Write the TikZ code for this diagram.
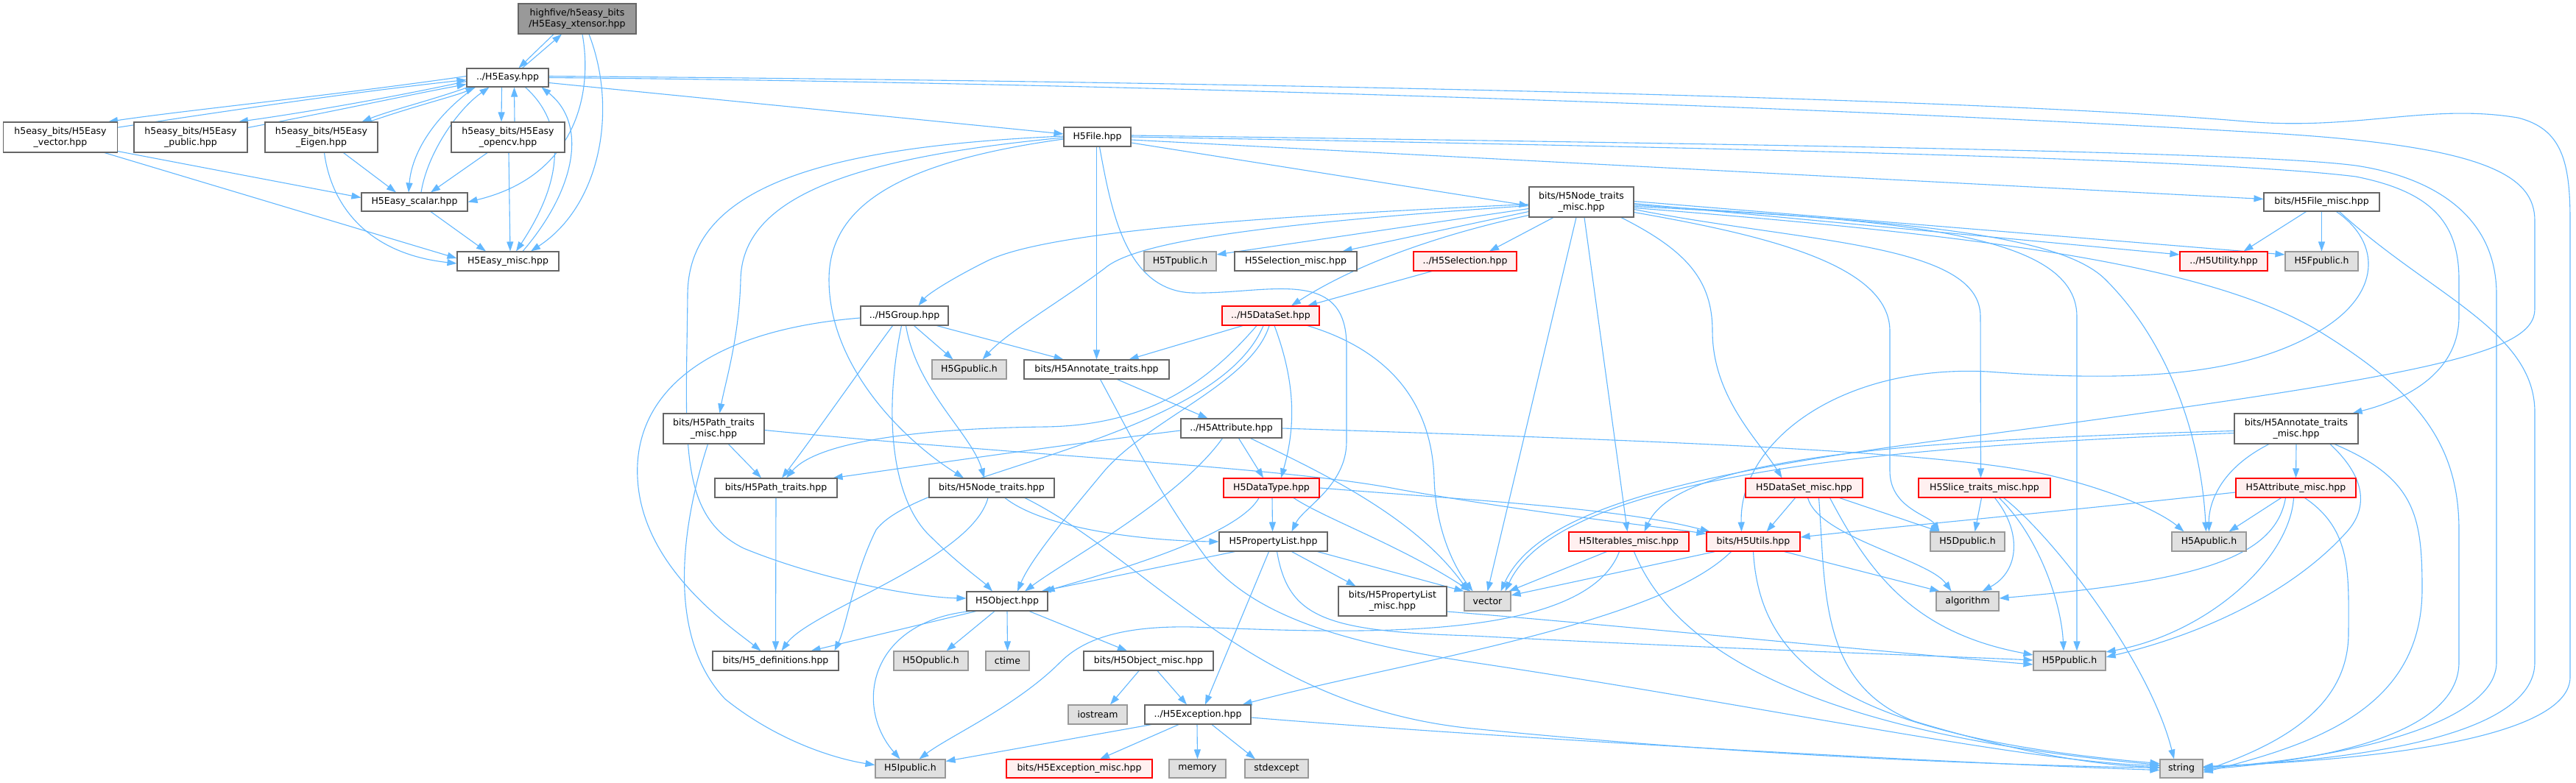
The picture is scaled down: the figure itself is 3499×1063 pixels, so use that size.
\documentclass[tikz,border=0pt]{standalone}
\usepackage{fontspec}
\setmainfont{DejaVu Sans}
\usetikzlibrary{arrows.meta}
\pgfdeclarelayer{bg}
\pgfsetlayers{bg,main}
\definecolor{edgec}{HTML}{63B8FF}
\definecolor{bord}{HTML}{666666}
\definecolor{rootf}{HTML}{999999}
\definecolor{extf}{HTML}{E0E0E0}
\definecolor{extb}{HTML}{999999}
\definecolor{redf}{HTML}{FFF0F0}
\definecolor{redb}{HTML}{FF0000}
\begin{document}
\begin{tikzpicture}[x=1pt,y=-1pt,
  nbase/.style={rectangle, inner sep=0pt, align=center, line width=1.1pt, font=\fontsize{12.5}{15}\selectfont},
  nb/.style={nbase, draw=bord, fill=white},
  nr/.style={nbase, draw=bord, fill=rootf},
  ng/.style={nbase, draw=extb, fill=extf},
  nred/.style={nbase, draw=redb, fill=redf},
  edg/.style={draw=edgec, line width=1.1pt, -{Triangle[length=13pt,width=9pt]}}
]
\useasboundingbox (0,0) rectangle (3499,1063);
\begin{pgfonlayer}{bg}
\fill[white] (0,0) rectangle (3499,1063);
\end{pgfonlayer}

% ---------- nodes ----------
\node[nr, minimum width=160pt, minimum height=41pt] (xt) at (784,25.5) {highfive/h5easy\_bits\\/H5Easy\_xtensor.hpp};
\node[nb, minimum width=111pt, minimum height=25pt] (easy) at (689.5,105.5) {../H5Easy.hpp};
\node[nb, minimum width=155pt, minimum height=41pt] (vec) at (82,186.5) {h5easy\_bits/H5Easy\\\_vector.hpp};
\node[nb, minimum width=154pt, minimum height=41pt] (pub) at (259,186.5) {h5easy\_bits/H5Easy\\\_public.hpp};
\node[nb, minimum width=153pt, minimum height=41pt] (eig) at (436.5,186.5) {h5easy\_bits/H5Easy\\\_Eigen.hpp};
\node[nb, minimum width=154pt, minimum height=41pt] (ocv) at (690,186.5) {h5easy\_bits/H5Easy\\\_opencv.hpp};
\node[nb, minimum width=144pt, minimum height=25pt] (scal) at (563,274.5) {H5Easy\_scalar.hpp};
\node[nb, minimum width=138pt, minimum height=26pt] (emisc) at (690,355) {H5Easy\_misc.hpp};
\node[nb, minimum width=91pt, minimum height=26pt] (file) at (1490.5,186) {H5File.hpp};
\node[nb, minimum width=142pt, minimum height=41pt] (ntm) at (2148,274.5) {bits/H5Node\_traits\\\_misc.hpp};
\node[nb, minimum width=157pt, minimum height=25pt] (fmisc) at (3153.5,274.5) {bits/H5File\_misc.hpp};
\node[ng, minimum width=98pt, minimum height=26pt] (tpub) at (1603,355) {H5Tpublic.h};
\node[nb, minimum width=166pt, minimum height=26pt] (selm) at (1760,355) {H5Selection\_misc.hpp};
\node[nred, minimum width=140pt, minimum height=26pt] (sel) at (1990,355) {../H5Selection.hpp};
\node[nred, minimum width=119pt, minimum height=26pt] (util) at (3020.5,355) {../H5Utility.hpp};
\node[ng, minimum width=99pt, minimum height=26pt] (fpub) at (3153.5,355) {H5Fpublic.h};
\node[nb, minimum width=119pt, minimum height=26pt] (grp) at (1228.5,429) {../H5Group.hpp};
\node[nred, minimum width=132pt, minimum height=26pt] (ds) at (1726,429) {../H5DataSet.hpp};
\node[ng, minimum width=101pt, minimum height=26pt] (gpub) at (1316.5,502) {H5Gpublic.h};
\node[nb, minimum width=197pt, minimum height=26pt] (annt) at (1489.5,502) {bits/H5Annotate\_traits.hpp};
\node[nb, minimum width=137pt, minimum height=41pt] (ptm) at (969.5,582.5) {bits/H5Path\_traits\\\_misc.hpp};
\node[nb, minimum width=137pt, minimum height=26pt] (attr) at (1672.5,582) {../H5Attribute.hpp};
\node[nb, minimum width=168pt, minimum height=41pt] (antm) at (3119,582.5) {bits/H5Annotate\_traits\\\_misc.hpp};
\node[nb, minimum width=166pt, minimum height=26pt] (pt) at (1054,663) {bits/H5Path\_traits.hpp};
\node[nb, minimum width=170pt, minimum height=26pt] (nt) at (1347,663) {bits/H5Node\_traits.hpp};
\node[nred, minimum width=130pt, minimum height=26pt] (dt) at (1727,663) {H5DataType.hpp};
\node[nred, minimum width=159pt, minimum height=26pt] (dsm) at (2450.5,663) {H5DataSet\_misc.hpp};
\node[nred, minimum width=179pt, minimum height=26pt] (slm) at (2695.5,663) {H5Slice\_traits\_misc.hpp};
\node[nred, minimum width=163pt, minimum height=26pt] (atm) at (3118.5,663) {H5Attribute\_misc.hpp};
\node[nb, minimum width=147pt, minimum height=26pt] (pl) at (1729.5,736) {H5PropertyList.hpp};
\node[nred, minimum width=163pt, minimum height=26pt] (itm) at (2212.5,736) {H5Iterables\_misc.hpp};
\node[nred, minimum width=127pt, minimum height=26pt] (utils) at (2381.5,736) {bits/H5Utils.hpp};
\node[ng, minimum width=101pt, minimum height=26pt] (dpub) at (2672.5,736) {H5Dpublic.h};
\node[ng, minimum width=101pt, minimum height=26pt] (apub) at (3000.5,736) {H5Apublic.h};
\node[nb, minimum width=110pt, minimum height=26pt] (obj) at (1368,817) {H5Object.hpp};
\node[nb, minimum width=147pt, minimum height=40pt] (plm) at (1891.5,817) {bits/H5PropertyList\\\_misc.hpp};
\node[ng, minimum width=63pt, minimum height=26pt] (vecs) at (2020.5,817) {vector};
\node[ng, minimum width=85pt, minimum height=26pt] (algo) at (2672.5,817) {algorithm};
\node[nb, minimum width=171pt, minimum height=26pt] (defs) at (1053.5,898) {bits/H5\_definitions.hpp};
\node[ng, minimum width=101pt, minimum height=26pt] (opub) at (1264.5,898) {H5Opublic.h};
\node[ng, minimum width=59pt, minimum height=26pt] (ctime) at (1368.5,898) {ctime};
\node[nb, minimum width=176pt, minimum height=26pt] (objm) at (1560,898) {bits/H5Object\_misc.hpp};
\node[ng, minimum width=98pt, minimum height=26pt] (ppub) at (2811,898) {H5Ppublic.h};
\node[ng, minimum width=80pt, minimum height=26pt] (iostr) at (1491,971) {iostream};
\node[nb, minimum width=144pt, minimum height=26pt] (exc) at (1627,971) {../H5Exception.hpp};
\node[ng, minimum width=95pt, minimum height=25pt] (ipub) at (1236.5,1044.5) {H5Ipublic.h};
\node[nred, minimum width=198pt, minimum height=25pt] (excm) at (1466,1044.5) {bits/H5Exception\_misc.hpp};
\node[ng, minimum width=77pt, minimum height=25pt] (memory) at (1626.5,1044.5) {memory};
\node[ng, minimum width=86pt, minimum height=25pt] (stdexc) at (1734,1044.5) {stdexcept};
\node[ng, minimum width=58pt, minimum height=25pt] (string) at (2963,1044.5) {string};

\begin{pgfonlayer}{bg}
% ---------- H5Easy cluster ----------
\draw[edg] ([xshift=-32]xt.south) -- ([xshift=15]easy.north);
\draw[edg] ([xshift=20]easy.north) -- ([xshift=-21]xt.south);
\draw[edg] ([xshift=7]xt.south) .. controls (806,130) and (780,240) .. (scal.east);
\draw[edg] ([xshift=16]xt.south) .. controls (840,150) and (815,280) .. ([xshift=31]emisc.north);
\draw[edg] ([yshift=2]easy.west) .. controls (450,130) and (250,150) .. ([xshift=65]vec.north);
\draw[edg] ([xshift=-2,yshift=-8]vec.north east) .. controls (300,152) and (480,125) .. ([yshift=-3]easy.west);
\draw[edg] ([yshift=-5]easy.west) .. controls (520,135) and (400,155) .. ([xshift=65]pub.north);
\draw[edg] ([yshift=-8]pub.north east) .. controls (450,152) and (560,128) .. ([yshift=-9]easy.west);
\draw[edg] ([xshift=2]easy.south west) .. controls (590,135) and (530,150) .. ([xshift=55]eig.north);
\draw[edg] ([xshift=65]eig.north) .. controls (560,145) and (620,130) .. ([xshift=12]easy.south west);
\draw[edg] ([xshift=-8]easy.south) -- ([xshift=-9]ocv.north);
\draw[edg] ([xshift=9]ocv.north) -- ([xshift=9]easy.south);
\draw[edg] ([xshift=-44]easy.south) .. controls (600,150) and (560,200) .. ([xshift=-8]scal.north);
\draw[edg] ([xshift=9]scal.north) .. controls (580,210) and (620,150) .. ([xshift=-25]easy.south);
\draw[edg] ([xshift=24]easy.south) .. controls (760,160) and (775,230) .. ([xshift=11]emisc.north);
\draw[edg] ([xshift=20]emisc.north) .. controls (780,260) and (800,170) .. ([xshift=-10]easy.south east);
\draw[edg] ([yshift=-7]easy.east) -- ([yshift=4]file.west);
\draw[edg] ([yshift=2]easy.east) .. controls (1800,112) and (2700,135) .. (3050,165) .. controls (3200,178) and (3300,140) .. (3420,160) .. controls (3480,175) and (3491,220) .. (3491,300) -- (3491,920) .. controls (3491,990) and (3300,1030) .. ([yshift=3]string.east);
\draw[edg] (easy.east) .. controls (1500,112) and (2500,145) .. (3100,182) .. controls (3380,200) and (3443,240) .. (3443,300) -- (3443,420) .. controls (3443,480) and (3300,510) .. (2700,590) .. controls (2300,640) and (2090,690) .. ([xshift=18]vecs.north);
\draw[edg] ([yshift=2]vec.south east) -- ([yshift=6]scal.west);
\draw[edg] ([xshift=60]vec.south) -- ([yshift=4]emisc.west);
\draw[edg] ([xshift=30]eig.south) -- ([xshift=-25]scal.north);
\draw[edg] ([xshift=4]eig.south) .. controls (450,280) and (500,345) .. ([yshift=-3]emisc.west);
\draw[edg] ([xshift=-28]ocv.south) -- ([xshift=22]scal.north);
\draw[edg] ([xshift=1]ocv.south) -- ([xshift=3]emisc.north);
\draw[edg] ([xshift=22]scal.south) -- ([xshift=-30]emisc.north);

% ---------- H5File ----------
\draw[edg] ([yshift=-8]file.east) -- ([yshift=-5]ntm.west);
\draw[edg] ([yshift=-4]file.east) -- ([yshift=4]fmisc.west);
\draw[edg] ([yshift=2]file.east) .. controls (2300,195) and (3050,205) .. (3200,225) .. controls (3300,240) and (3391,290) .. (3391,400) -- (3391,900) .. controls (3391,980) and (3200,1030) .. ([yshift=1]string.east);
\draw[edg] (file.east) .. controls (2300,200) and (3000,215) .. (3200,240) .. controls (3300,260) and (3340,300) .. (3340,380) -- (3340,430) .. controls (3340,500) and (3280,540) .. ([xshift=-8]antm.north east);
\draw[edg] ([xshift=-1]file.south) -- (annt.north);
\draw[edg] ([xshift=3]file.south) .. controls (1510,290) and (1530,395) .. (1620,398) .. controls (1720,400) and (1829,360) .. (1829,470) -- (1829,600) .. controls (1829,660) and (1770,690) .. ([xshift=25]pl.north);
\draw[edg] ([yshift=1]file.west) .. controls (1100,200) and (935,260) .. (934,400) .. controls (932,600) and (920,700) .. (1010,745) .. controls (1120,790) and (1250,812) .. ([yshift=4]obj.west);
\draw[edg] ([yshift=-1]file.west) .. controls (1150,215) and (1008,270) .. (1006,380) .. controls (1004,460) and (985,520) .. ([xshift=8]ptm.north);
\draw[edg] ([yshift=-3]file.west) .. controls (1220,220) and (1126,280) .. (1126,380) .. controls (1126,500) and (1230,600) .. ([xshift=-38]nt.north);

% ---------- H5Node_traits_misc ----------
\draw[edg] ([yshift=-3]ntm.west) .. controls (1700,295) and (1420,315) .. (1340,355) .. controls (1290,380) and (1260,400) .. ([xshift=19]grp.north);
\draw[edg] ([yshift=-5]ntm.west) .. controls (1700,305) and (1540,330) .. (1500,365) .. controls (1440,410) and (1370,450) .. ([xshift=18]gpub.north);
\draw[edg] ([yshift=-9]ntm.west) -- ([yshift=9]tpub.east);
\draw[edg] ([yshift=-13]ntm.west) -- ([xshift=-20]selm.north east);
\draw[edg] ([yshift=-18]ntm.west) .. controls (1950,320) and (1840,360) .. ([xshift=28]ds.north);
\draw[edg] ([xshift=-38]ntm.south) -- ([xshift=33]sel.north);
\draw[edg] ([xshift=-7]ntm.south) -- (vecs.north);
\draw[edg] ([xshift=4]ntm.south) -- ([xshift=-2]itm.north);
\draw[edg] ([xshift=54]ntm.south) .. controls (2290,340) and (2326,380) .. (2326,450) .. controls (2326,540) and (2390,600) .. ([xshift=-30]dsm.north);
\draw[edg] ([yshift=-10]ntm.east) .. controls (2450,330) and (2690,330) .. (2690,430) -- ([xshift=-5]slm.north);
\draw[edg] ([yshift=-14]ntm.east) .. controls (2400,320) and (2567,360) .. (2567,450) -- (2567,640) .. controls (2567,690) and (2620,700) .. ([xshift=-38]dpub.north);
\draw[edg] ([yshift=-2]ntm.east) -- ([yshift=9]util.west);
\draw[edg] ([yshift=1]ntm.east) -- ([yshift=9]fpub.west);
\draw[edg] ([yshift=-6]ntm.east) .. controls (2600,300) and (2800,320) .. (2860,380) .. controls (2950,470) and (2990,600) .. ([xshift=-4]apub.north);
\draw[edg] ([yshift=-4]ntm.east) .. controls (2550,300) and (2821,310) .. (2821,430) -- ([xshift=10]ppub.north);
\draw[edg] ([yshift=-8]ntm.east) .. controls (2700,320) and (3000,360) .. (3150,450) .. controls (3280,530) and (3340,600) .. (3340,720) -- (3340,900) .. controls (3340,985) and (3200,1030) .. ([yshift=-1]string.east);

\draw[edg] ([xshift=-45]sel.south) -- ([xshift=50]ds.north);

% ---------- H5Group ----------
\draw[edg] ([yshift=-3]grp.west) .. controls (950,450) and (860,540) .. (866,650) .. controls (872,770) and (990,850) .. ([xshift=-20]defs.north);
\draw[edg] ([xshift=-16]grp.south) .. controls (1170,500) and (1100,600) .. ([xshift=8]pt.north);
\draw[edg] ([xshift=-4]grp.south) .. controls (1200,560) and (1210,680) .. (1265,730) .. controls (1300,765) and (1335,790) .. ([xshift=-20]obj.north);
\draw[edg] ([xshift=2]grp.south) .. controls (1245,530) and (1320,590) .. ([xshift=-10]nt.north);
\draw[edg] ([xshift=13]grp.south) -- ([xshift=-22]gpub.north);
\draw[edg] ([xshift=44]grp.south) -- ([xshift=-45]annt.north);

% ---------- H5DataSet ----------
\draw[edg] ([xshift=-38]ds.south) -- ([xshift=44]annt.north);
\draw[edg] ([xshift=-19]ds.south) .. controls (1640,520) and (1560,578) .. (1420,580) .. controls (1250,582) and (1110,600) .. ([xshift=14]pt.north);
\draw[edg] ([xshift=-10]ds.south) .. controls (1650,600) and (1250,640) .. (1190,720) .. controls (1160,780) and (1150,850) .. ([xshift=80]defs.north);
\draw[edg] ([xshift=-2]ds.south) .. controls (1700,520) and (1560,570) .. (1500,640) .. controls (1450,700) and (1400,760) .. ([xshift=14]obj.north);
\draw[edg] ([xshift=5]ds.south) .. controls (1760,520) and (1760,580) .. ([xshift=13]dt.north);
\draw[edg] ([xshift=50]ds.south) .. controls (1900,480) and (1945,560) .. (1948,650) .. controls (1950,720) and (1975,770) .. ([xshift=-20]vecs.north);

% ---------- H5Attribute ----------
\draw[edg] ([yshift=-3]attr.west) .. controls (1400,610) and (1200,640) .. ([xshift=-6]pt.north east);
\draw[edg] ([xshift=-12]attr.south) .. controls (1600,680) and (1450,760) .. ([xshift=24]obj.north);
\draw[edg] ([xshift=10]attr.south) -- ([xshift=-11]dt.north);
\draw[edg] ([xshift=26]attr.south) .. controls (1790,640) and (1920,700) .. ([xshift=-26]vecs.north);
\draw[edg] (attr.east) .. controls (2300,600) and (2650,615) .. (2780,645) .. controls (2880,668) and (2940,700) .. ([xshift=-34]apub.north);

% ---------- H5Annotate_traits ----------
\draw[edg] ([xshift=28]annt.south) -- ([xshift=-32]attr.north);
\draw[edg] ([xshift=5]annt.south) .. controls (1540,600) and (1580,680) .. (1640,760) .. controls (1700,830) and (1800,870) .. (2000,900) .. controls (2400,960) and (2750,1035) .. ([yshift=4]string.west);

% ---------- H5DataType ----------
\draw[edg] ([xshift=-17]dt.south) .. controls (1680,730) and (1500,780) .. ([xshift=-4]obj.north east);
\draw[edg] ([xshift=1]dt.south) -- ([xshift=-1]pl.north);
\draw[edg] ([xshift=30]dt.south) .. controls (1800,705) and (1900,740) .. ([xshift=-23]vecs.north);
\draw[edg] (dt.east) .. controls (2000,680) and (2200,690) .. ([xshift=5]utils.north west);

% ---------- H5PropertyList ----------
\draw[edg] ([xshift=-52]pl.south) -- ([xshift=-9]obj.north east);
\draw[edg] ([xshift=-6]pl.south) -- ([xshift=10]exc.north);
\draw[edg] ([xshift=25]pl.south) -- ([xshift=-50]plm.north);
\draw[edg] ([xshift=60]pl.south) -- (vecs.north west);
\draw[edg] ([xshift=5]pl.south) .. controls (1750,840) and (1800,858) .. (2000,864) .. controls (2300,880) and (2600,890) .. ([yshift=1]ppub.west);
\draw[edg] ([yshift=-14]plm.east) .. controls (2200,850) and (2550,885) .. ([yshift=-5]ppub.west);

% ---------- H5Object ----------
\draw[edg] ([xshift=-42]obj.south) -- ([xshift=48]defs.north);
\draw[edg] ([xshift=-50]obj.south) .. controls (1180,845) and (1160,960) .. ([xshift=-14]ipub.north);
\draw[edg] ([xshift=-17]obj.south) -- ([xshift=21]opub.north);
\draw[edg] (obj.south) -- (ctime.north);
\draw[edg] ([xshift=30]obj.south) -- ([xshift=-29]objm.north);
\draw[edg] ([xshift=-13]objm.south) -- ([xshift=17]iostr.north);
\draw[edg] ([xshift=12]objm.south) -- ([xshift=-15]exc.north);

% ---------- H5Exception ----------
\draw[edg] ([xshift=-63]exc.south) -- ([yshift=10]ipub.east);
\draw[edg] ([xshift=-26]exc.south) -- ([xshift=28]excm.north);
\draw[edg] ([xshift=-1]exc.south) -- (memory.north);
\draw[edg] ([xshift=19]exc.south) -- ([xshift=-29]stdexc.north);
\draw[edg] ([yshift=-4]exc.east) .. controls (2000,1000) and (2600,1035) .. ([yshift=-2]string.west);

% ---------- Path traits ----------
\draw[edg] ([xshift=20]ptm.south) -- ([xshift=-20]pt.north);
\draw[edg] ([xshift=-8]ptm.south) .. controls (930,700) and (900,860) .. (985,950) .. controls (1060,1010) and (1140,1032) .. ([yshift=5]ipub.west);
\draw[edg] ([yshift=-2]ptm.east) .. controls (1400,620) and (1750,635) .. (1900,665) .. controls (2100,700) and (2250,715) .. ([yshift=-3]utils.north west);
\draw[edg] (pt.south) -- (defs.north);

% ---------- Node traits ----------
\draw[edg] ([xshift=-5]nt.south) .. controls (1320,760) and (1100,830) .. ([xshift=8]defs.north);
\draw[edg] ([xshift=18]nt.south) .. controls (1420,720) and (1560,735) .. (pl.west);
\draw[edg] ([xshift=45]nt.south) .. controls (1560,760) and (1700,960) .. (2000,990) .. controls (2400,1030) and (2750,1040) .. ([yshift=1]string.west);

% ---------- Iterables ----------
\draw[edg] ([xshift=-30]itm.south) -- ([xshift=-3]vecs.north east);
\draw[edg] ([xshift=-13]itm.south) .. controls (2150,880) and (1800,858) .. (1620,852) .. controls (1520,850) and (1470,870) .. (1440,900) .. controls (1380,960) and (1290,1000) .. ([xshift=12]ipub.north);
\draw[edg] ([xshift=7]itm.south) .. controls (2280,900) and (2500,1000) .. ([yshift=5]string.west);

% ---------- Utils ----------
\draw[edg] ([xshift=-52]utils.south) -- ([yshift=8]vecs.east);
\draw[edg] ([xshift=-30]utils.south) .. controls (2250,850) and (1900,900) .. ([xshift=-12]exc.north east);
\draw[edg] (utils.south) .. controls (2390,900) and (2500,1000) .. ([yshift=7]string.west);
\draw[edg] ([xshift=42]utils.south) -- ([xshift=5]algo.north west);

% ---------- DataSet_misc ----------
\draw[edg] ([xshift=-12]dsm.south) -- ([xshift=18]utils.north);
\draw[edg] ([xshift=5]dsm.south) .. controls (2470,730) and (2620,760) .. ([xshift=-22]algo.north);
\draw[edg] ([xshift=20]dsm.south) .. controls (2480,800) and (2470,930) .. (2600,980) .. controls (2750,1025) and (2850,1040) .. ([yshift=2]string.west);
\draw[edg] ([xshift=35]dsm.south) .. controls (2540,780) and (2600,860) .. ([yshift=8]ppub.west);
\draw[edg] ([xshift=48]dsm.south) -- ([xshift=-38]dpub.north);

% ---------- Slice_traits_misc ----------
\draw[edg] ([xshift=-4]slm.south) -- ([xshift=10]dpub.north);
\draw[edg] ([xshift=14]slm.south) .. controls (2745,720) and (2745,775) .. ([xshift=20]algo.north);
\draw[edg] ([xshift=20]slm.south) .. controls (2770,730) and (2800,820) .. ([xshift=-8]ppub.north);
\draw[edg] ([xshift=26]slm.south) .. controls (2790,730) and (2920,900) .. ([xshift=-10]string.north);

% ---------- File_misc ----------
\draw[edg] ([xshift=-21]fmisc.south) -- ([xshift=27]util.north);
\draw[edg] (fmisc.south) -- (fpub.north);
\draw[edg] ([xshift=20]fmisc.south) .. controls (3235,330) and (3235,400) .. (3150,450) .. controls (3050,510) and (2900,520) .. (2700,505) .. controls (2500,495) and (2362,600) .. ([xshift=-16]utils.north);
\draw[edg] ([xshift=24]fmisc.south) .. controls (3300,400) and (3443,450) .. (3443,560) -- (3443,900) .. controls (3443,990) and (3250,1030) .. ([yshift=2]string.east);

% ---------- Annotate_traits_misc ----------
\draw[edg] (antm.south) -- (atm.north);
\draw[edg] ([yshift=-3]antm.west) .. controls (2600,598) and (2280,620) .. ([xshift=21]itm.north);
\draw[edg] ([yshift=-6]antm.west) .. controls (2600,605) and (2120,640) .. ([xshift=24]vecs.north);
\draw[edg] ([xshift=-37]antm.south) .. controls (3010,640) and (3000,690) .. (apub.north);
\draw[edg] ([xshift=46]antm.south) .. controls (3215,650) and (3215,690) .. (3190,720) .. controls (3120,800) and (3000,860) .. ([yshift=5]ppub.east);
\draw[edg] ([xshift=52]antm.south) .. controls (3280,650) and (3290,700) .. (3290,800) .. controls (3290,960) and (3150,1010) .. ([yshift=-5]string.east);

% ---------- Attribute_misc ----------
\draw[edg] ([yshift=-6]atm.west) .. controls (2800,695) and (2550,718) .. ([yshift=6]utils.east);
\draw[edg] ([xshift=-20]atm.south) -- ([xshift=27]apub.north);
\draw[edg] ([xshift=-14]atm.south) .. controls (3090,760) and (2980,790) .. ([yshift=4]algo.east);
\draw[edg] ([xshift=-3]atm.south) .. controls (3110,760) and (3000,860) .. ([yshift=12]ppub.east);
\draw[edg] ([xshift=12]atm.south) .. controls (3195,720) and (3190,780) .. (3190,860) .. controls (3190,960) and (3100,1010) .. ([yshift=-3]string.east);
\end{pgfonlayer}
\end{tikzpicture}
\end{document}
